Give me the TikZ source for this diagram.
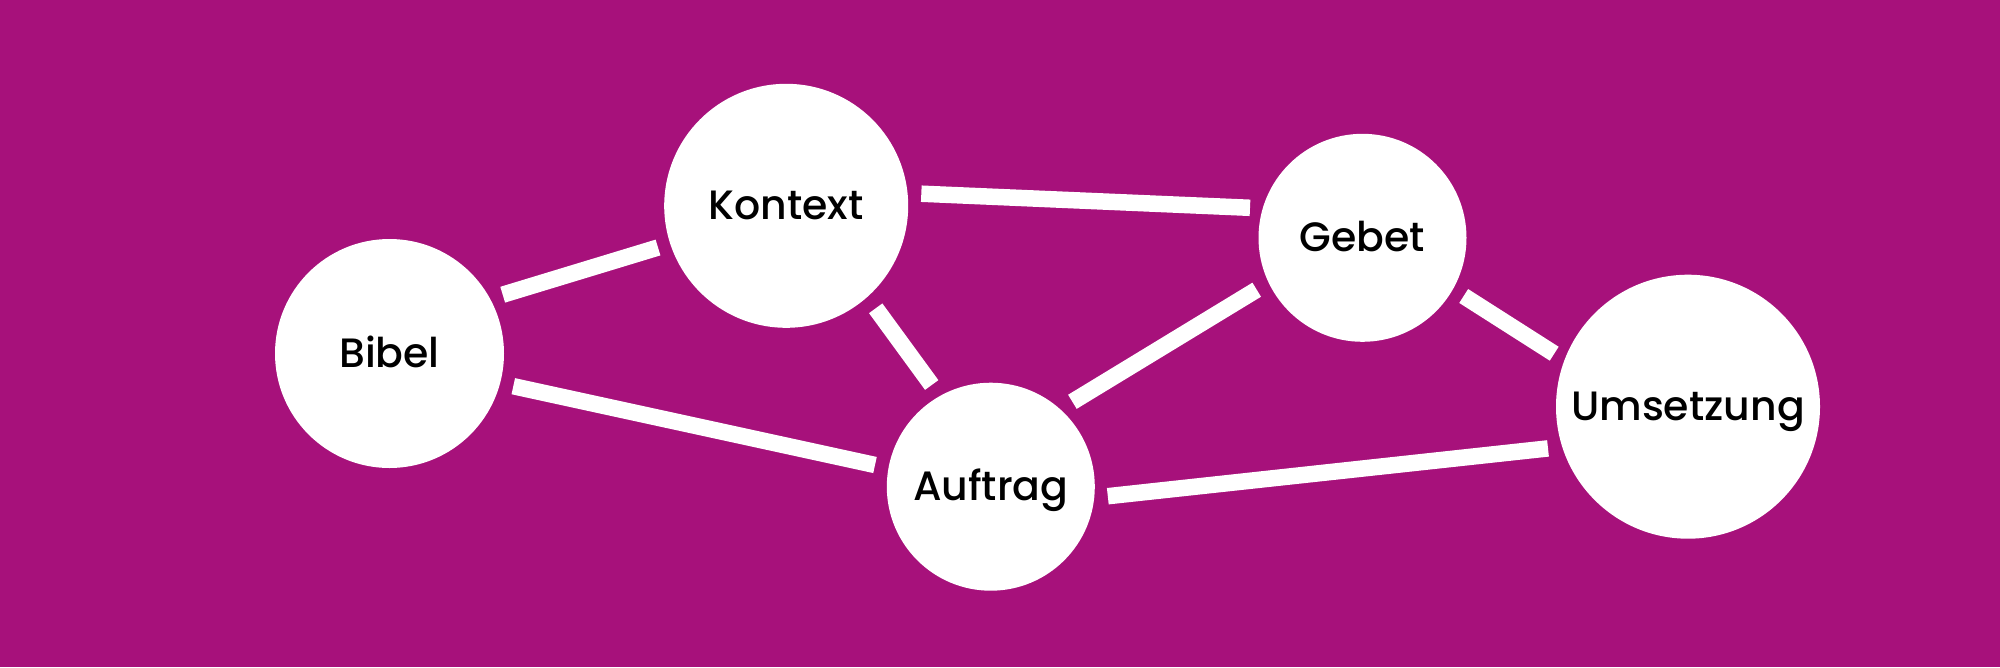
\documentclass[tikz,border=0pt]{standalone}
\usepackage{fontspec}
\setmainfont{Poppins}[UprightFont=* Medium]
\definecolor{bg}{RGB}{167,17,123}
\begin{document}
\begin{tikzpicture}[x=1pt,y=-1pt,
  hub/.style={circle,fill=white,inner sep=0pt,text=black,
    font=\fontsize{41}{42}\selectfont,text height=28pt,text depth=0pt},
  bar/.style={draw=white,line width=16.5pt,line cap=butt}]
\fill[bg] (0,0) rectangle (2000,667);
\useasboundingbox (0,0) rectangle (2000,667);
\node[hub,minimum size=229pt] (bibel) at (389.5,353.5) {Bibel};
\node[hub,minimum size=244pt] (kontext) at (786.2,205.8) {Kontext};
\node[hub,minimum size=208pt] (gebet) at (1362.5,237.8) {Gebet};
\node[hub,minimum size=208pt] (auftrag) at (990.8,486.7) {Auftrag};
\node[hub,minimum size=264pt] (umsetzung) at (1688,406.7) {Umsetzung};
\draw[bar] ([shift={(113.2,-58.8)}]bibel.center) -- ([shift={(-128.2,41.7)}]kontext.center);
\draw[bar] ([shift={(135.1,-12.1)}]kontext.center) -- ([shift={(-112.5,-30)}]gebet.center);
\draw[bar] ([shift={(89.5,102.5)}]kontext.center) -- ([shift={(-59.1,-101.7)}]auftrag.center);
\draw[bar] ([shift={(123.8,32.7)}]bibel.center) -- ([shift={(-115.8,-21.7)}]auftrag.center);
\draw[bar] ([shift={(81.6,-84.9)}]auftrag.center) -- ([shift={(-105.8,51.9)}]gebet.center);
\draw[bar] ([shift={(101.2,58.2)}]gebet.center) -- ([shift={(-133.8,-53)}]umsetzung.center);
\draw[bar] ([shift={(117,9.5)}]auftrag.center) -- ([shift={(-140,41.7)}]umsetzung.center);
\end{tikzpicture}
\end{document}
